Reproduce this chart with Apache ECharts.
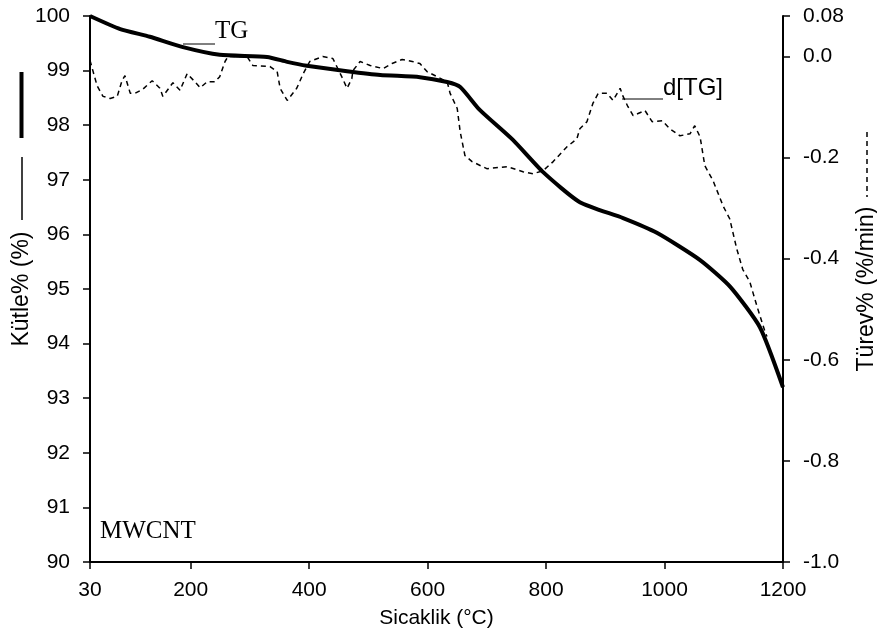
<!DOCTYPE html>
<html>
<head>
<meta charset="utf-8">
<script src="https://cdn.jsdelivr.net/npm/echarts@6/dist/echarts.min.js"></script>
<style>
html, body { margin: 0; padding: 0; background: #fff; }
#chart { width: 877px; height: 635px; }
</style>
</head>
<body>
<div id="chart"></div>
<script>
// x tick labels (temperature, °C)
var xTicks = [30, 200, 400, 600, 800, 1000, 1200]
// right axis tick labels (derivative, %/min)
var rightTicks = [-1.0, -0.8, -0.6, -0.4, -0.2, 0.0, 0.08]

// TG curve: mass % vs temperature
var tgTemp = [30, 81, 131, 187, 249, 329, 363, 396, 464, 520, 587, 633, 655, 688, 744, 795, 857, 930, 987, 1060, 1111, 1161, 1200]
var tgMass = [100.0, 99.76, 99.62, 99.43, 99.29, 99.25, 99.16, 99.09, 98.99, 98.92, 98.88, 98.79, 98.70, 98.28, 97.73, 97.14, 96.59, 96.30, 96.03, 95.53, 95.04, 94.30, 93.2]

// d[TG] curve: derivative %/min vs temperature
var dtgTemp = [30, 42, 52, 64, 76, 84, 89, 98, 106, 119, 135, 148, 153, 170, 182, 194, 207, 216, 228, 241,
	249, 258, 263, 295, 305, 334, 346, 351, 363, 379, 390, 401, 423, 440, 455, 464, 472, 474, 486, 503,
	525, 540, 557, 574, 587, 599, 633, 638, 650, 655, 663, 675, 700, 734, 761, 778, 795, 812, 835, 852,
	857, 869, 879, 888, 903, 913, 925, 930, 938, 947, 967, 979, 996, 1009, 1026, 1043, 1051, 1060, 1068, 1082,
	1099, 1110, 1122, 1132, 1144, 1156, 1170, 1173]
var dtgRate = [-0.008, -0.058, -0.079, -0.083, -0.079, -0.048, -0.038, -0.073, -0.073, -0.065, -0.048, -0.063, -0.079, -0.052, -0.067, -0.034, -0.050, -0.062, -0.050, -0.050,
	-0.040, -0.010, 0.000, 0.000, -0.018, -0.020, -0.030, -0.063, -0.087, -0.063, -0.034, -0.010, 0.000, -0.004, -0.040, -0.063, -0.044, -0.028, -0.010, -0.018,
	-0.024, -0.014, -0.006, -0.010, -0.014, -0.030, -0.050, -0.073, -0.103, -0.149, -0.196, -0.208, -0.222, -0.218, -0.228, -0.232, -0.226, -0.208, -0.179, -0.163,
	-0.143, -0.129, -0.093, -0.073, -0.073, -0.087, -0.063, -0.079, -0.099, -0.117, -0.107, -0.129, -0.127, -0.143, -0.157, -0.153, -0.137, -0.159, -0.216, -0.246,
	-0.296, -0.321, -0.381, -0.421, -0.446, -0.494, -0.546, -0.554]

function zip(xs, ys) {
	return xs.map(function (x, i) { return [x, ys[i]] })
}

var sans = '"Liberation Sans", Arial, sans-serif'
var serif = '"Liberation Serif", "Times New Roman", serif'
var axisLine = { show: true, onZero: false, lineStyle: { color: '#000', width: 2 } }
var axisTick = { show: true, length: 7, lineStyle: { color: '#000', width: 1.5 } }
var labelFont = { color: '#000', fontSize: 21, fontFamily: sans }
var nameFont = { color: '#000', fontSize: 23, fontFamily: sans }

var myChart = echarts.init(document.getElementById('chart'))
myChart.setOption({
	animation: false,
	grid: { left: 90, right: 94, top: 16, bottom: 73, containLabel: false, outerBoundsMode: 'none' },
	xAxis: {
		type: 'value',
		min: 30,
		max: 1200,
		name: 'Sicaklik (°C)',
		nameLocation: 'middle',
		nameGap: 46,
		nameTextStyle: Object.assign({}, labelFont),
		axisLine: axisLine,
		axisTick: Object.assign({ customValues: xTicks }, axisTick),
		axisLabel: Object.assign({ customValues: xTicks, margin: 18, formatter: function (v) { return String(v) } }, labelFont),
		splitLine: { show: false }
	},
	yAxis: [
		{
			type: 'value',
			min: 90,
			max: 100,
			interval: 1,
			name: 'Kütle% (%)',
			nameLocation: 'middle',
			nameRotate: 90,
			nameGap: 57,
			nameMoveOverlap: false,
			nameTextStyle: nameFont,
			axisLine: axisLine,
			axisTick: axisTick,
			axisLabel: Object.assign({ margin: 20 }, labelFont),
			splitLine: { show: false }
		},
		{
			type: 'value',
			position: 'right',
			min: -1.0,
			max: 0.08,
			name: 'Türev% (%/min)',
			nameLocation: 'middle',
			nameRotate: 90,
			nameGap: 72,
			nameMoveOverlap: false,
			nameTextStyle: nameFont,
			axisLine: axisLine,
			axisTick: Object.assign({ customValues: rightTicks }, axisTick),
			axisLabel: Object.assign({
				customValues: rightTicks,
				margin: 20,
				formatter: function (v) {
					return Math.abs(v - 0.08) < 1e-9 ? '0.08' : v.toFixed(1)
				}
			}, labelFont),
			splitLine: { show: false }
		}
	],
	series: [
		{
			name: 'TG',
			type: 'line',
			yAxisIndex: 0,
			data: zip(tgTemp, tgMass),
			showSymbol: false,
			smooth: 0.2,
			lineStyle: { color: '#000', width: 4 }
		},
		{
			name: 'd[TG]',
			type: 'line',
			yAxisIndex: 1,
			data: zip(dtgTemp, dtgRate),
			showSymbol: false,
			lineStyle: { color: '#000', width: 1.5, type: [5, 4] }
		}
	],
	graphic: [
		// curve labels with leader lines
		{ type: 'line', shape: { x1: 183, y1: 44, x2: 215, y2: 44 }, style: { stroke: '#000', lineWidth: 1 } },
		{ type: 'text', style: { text: 'TG', x: 215, y: 31, font: '25px ' + serif, fill: '#000', verticalAlign: 'middle' } },
		{ type: 'line', shape: { x1: 622, y1: 99, x2: 663, y2: 99 }, style: { stroke: '#000', lineWidth: 1 } },
		{ type: 'text', style: { text: 'd[TG]', x: 663, y: 88, font: '24px ' + sans, fill: '#000', verticalAlign: 'middle' } },
		{ type: 'text', style: { text: 'MWCNT', x: 100, y: 531, font: '25px ' + serif, fill: '#000', verticalAlign: 'middle' } },
		// line-style keys next to the axis names
		{ type: 'line', shape: { x1: 21.5, y1: 72, x2: 21.5, y2: 138 }, style: { stroke: '#000', lineWidth: 4 } },
		{ type: 'line', shape: { x1: 22, y1: 157, x2: 22, y2: 220 }, style: { stroke: '#000', lineWidth: 1.5 } },
		{ type: 'line', shape: { x1: 867, y1: 132, x2: 867, y2: 197 }, style: { stroke: '#000', lineWidth: 1.5, lineDash: [5, 4] } }
	]
})
</script>
</body>
</html>
